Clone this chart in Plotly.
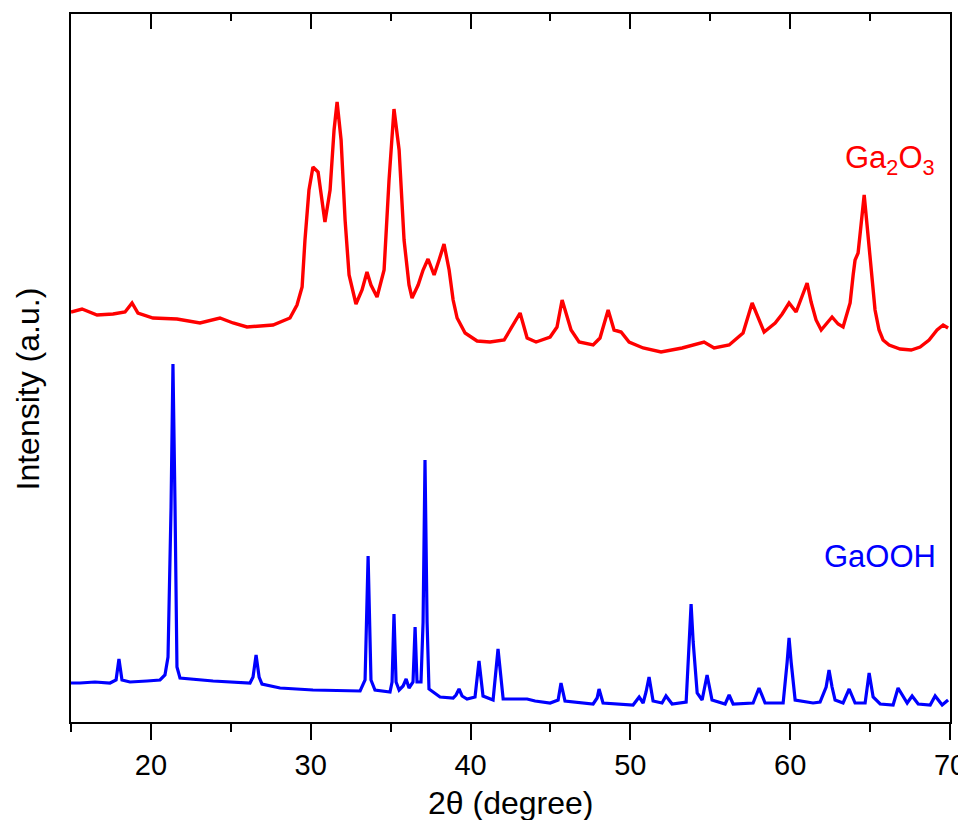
import plotly.graph_objects as go

# Ga2O3 pattern (2theta in degree, intensity a.u.)
ga2o3_x = [15.00, 15.69, 16.63, 17.63, 18.38, 18.82, 19.19, 20.13, 21.63, 23.07, 24.32, 25.14,
           26.01, 27.64, 28.70, 29.14, 29.46, 29.64, 29.89, 30.14, 30.46, 30.71, 30.89, 31.21,
           31.46, 31.65, 31.90, 32.15, 32.40, 32.83, 33.21, 33.52, 33.77, 34.15, 34.59, 34.90,
           35.21, 35.53, 35.84, 36.15, 36.34, 36.72, 37.03, 37.34, 37.72, 38.03, 38.34, 38.66,
           38.91, 39.16, 39.66, 40.41, 41.22, 42.10, 42.60, 43.10, 43.54, 44.10, 44.98, 45.41,
           45.73, 46.04, 46.29, 46.79, 47.67, 48.10, 48.61, 48.98, 49.42, 49.92, 50.80, 51.92,
           53.24, 54.61, 55.24, 56.18, 57.05, 57.62, 57.99, 58.37, 59.06, 59.50, 59.93, 60.37,
           61.06, 61.31, 61.62, 61.94, 62.62, 63.00, 63.31, 63.75, 63.94, 64.06, 64.25, 64.44,
           64.63, 64.81, 65.06, 65.31, 65.56, 65.81, 66.19, 66.88, 67.57, 68.13, 68.69, 69.19,
           69.57, 69.88]
ga2o3_y = [410, 413, 407, 408, 410, 419, 409, 404, 403, 399, 404, 399,
           395, 397, 404, 417, 435, 482, 532, 555, 550, 522, 500, 532,
           592, 620, 582, 502, 447, 418, 432, 450, 437, 425, 452, 542,
           613, 572, 482, 437, 424, 437, 452, 463, 447, 462, 478, 452,
           422, 404, 389, 381, 380, 382, 395, 409, 384, 380, 385, 395,
           422, 405, 392, 380, 377, 384, 412, 392, 390, 380, 374, 370,
           374, 380, 374, 377, 389, 419, 405, 390, 399, 408, 419, 410,
           439, 420, 402, 392, 405, 398, 395, 419, 447, 462, 469, 497,
           527, 497, 452, 412, 392, 382, 377, 373, 372, 375, 382, 392,
           397, 394]

# GaOOH pattern
gaooh_x = [15.00, 15.56, 16.50, 17.44, 17.82, 18.00, 18.19, 18.69, 19.76, 20.57, 20.88, 21.07,
           21.26, 21.38, 21.51, 21.63, 21.82, 23.89, 26.20, 26.39, 26.58, 26.77, 26.95, 28.08,
           30.14, 33.09, 33.40, 33.59, 33.77, 34.02, 34.96, 35.09, 35.21, 35.34, 35.53, 35.78,
           35.97, 36.15, 36.40, 36.53, 36.65, 36.90, 37.03, 37.15, 37.28, 37.40, 38.09, 38.91,
           39.09, 39.28, 39.47, 39.78, 40.28, 40.53, 40.78, 41.41, 41.72, 42.04, 43.54, 44.04,
           44.98, 45.48, 45.66, 45.91, 47.67, 47.92, 48.04, 48.29, 50.17, 50.55, 50.80, 50.98,
           51.17, 51.42, 51.98, 52.23, 52.61, 53.49, 53.68, 53.80, 53.93, 54.18, 54.49, 54.80,
           55.11, 55.93, 56.18, 56.43, 57.68, 58.05, 58.43, 59.56, 59.81, 59.93, 60.06, 60.31,
           61.43, 61.87, 62.25, 62.43, 62.62, 62.81, 63.31, 63.69, 64.06, 64.69, 64.94, 65.19,
           65.63, 66.44, 66.75, 67.00, 67.32, 67.63, 68.01, 68.76, 69.07, 69.51, 69.88]
gaooh_y = [39, 39, 40, 39, 42, 63, 42, 40, 41, 42, 47, 65,
           215, 358, 215, 55, 44, 41, 39, 45, 67, 45, 38, 34,
           32, 31, 42, 166, 42, 32, 30, 40, 108, 40, 32, 36,
           43, 34, 40, 95, 40, 40, 100, 262, 100, 33, 25, 24,
           27, 33, 26, 23, 25, 61, 26, 22, 73, 23, 23, 21,
           19, 22, 39, 21, 18, 24, 33, 19, 17, 25, 19, 30,
           45, 21, 19, 26, 18, 20, 80, 118, 80, 29, 22, 47,
           22, 18, 27, 18, 19, 34, 19, 19, 60, 84, 60, 22,
           19, 20, 35, 52, 35, 22, 19, 33, 19, 19, 49, 25,
           18, 17, 34, 27, 19, 26, 18, 17, 26, 17, 22]

x_range = [15, 70]
y_range = [0, 708]
tick_vals = [20, 30, 40, 50, 60, 70]
tick_text = ["20", "30", "40", "50", "60", "70"]
minor_vals = [15, 25, 35, 45, 55, 65]

font_family = "Arial, Liberation Sans, sans-serif"

fig = go.Figure()
fig.add_trace(go.Scatter(x=ga2o3_x, y=ga2o3_y, mode="lines",
                         line=dict(color="#FF0000", width=3.4), showlegend=False))
fig.add_trace(go.Scatter(x=gaooh_x, y=gaooh_y, mode="lines",
                         line=dict(color="#0000FF", width=3.2), showlegend=False))
# helper trace so the top axis is drawn
fig.add_trace(go.Scatter(x=x_range, y=[0, 0], mode="markers", xaxis="x2",
                         marker=dict(opacity=0), hoverinfo="skip", showlegend=False))

# page body has an 8px margin: the figure is sized to end exactly at the window edges
fig.update_layout(
    width=958, height=812,
    margin=dict(l=63, r=16, t=6, b=98),
    paper_bgcolor="white", plot_bgcolor="white",
    font=dict(family=font_family, color="black"),
    xaxis=dict(range=x_range, tickvals=tick_vals, ticktext=tick_text,
               ticks="outside", ticklen=16, tickwidth=2, tickcolor="black",
               showline=True, linewidth=2, linecolor="black", mirror=True,
               showgrid=False, zeroline=False, tickfont=dict(size=29),
               ticklabeloverflow="allow", automargin=False,
               minor=dict(tickvals=minor_vals, ticks="outside",
                          ticklen=8, tickwidth=2, tickcolor="black")),
    xaxis2=dict(range=x_range, overlaying="x", side="top", anchor="y",
                tickvals=tick_vals, ticks="inside", ticklen=15, tickwidth=2,
                tickcolor="black", showticklabels=False, showline=False,
                showgrid=False, zeroline=False,
                minor=dict(tickvals=minor_vals, ticks="inside",
                           ticklen=7, tickwidth=2, tickcolor="black")),
    yaxis=dict(range=y_range, showticklabels=False, ticks="",
               showline=True, linewidth=2, linecolor="black", mirror=True,
               showgrid=False, zeroline=False),
    annotations=[
        dict(text="2\u03b8 (degree)", xref="paper", yref="paper", x=0.5, y=-0.1144,
             xanchor="center", yanchor="middle", showarrow=False,
             font=dict(size=32, color="black")),
        dict(text="Intensity (a.u.)", xref="paper", yref="paper", x=-0.049, y=0.471,
             xanchor="center", yanchor="middle", textangle=-90, showarrow=False,
             font=dict(size=32, color="black")),
        dict(text="Ga<sub>2</sub>O<sub>3</sub>", xref="x", yref="y", x=66.25, y=562,
             xanchor="center", yanchor="middle", showarrow=False,
             font=dict(size=31, color="#FF0000")),
        dict(text="GaOOH", xref="x", yref="y", x=65.6, y=166,
             xanchor="center", yanchor="middle", showarrow=False,
             font=dict(size=31, color="#0000FF")),
    ],
)

fig.write_html("out.html")
